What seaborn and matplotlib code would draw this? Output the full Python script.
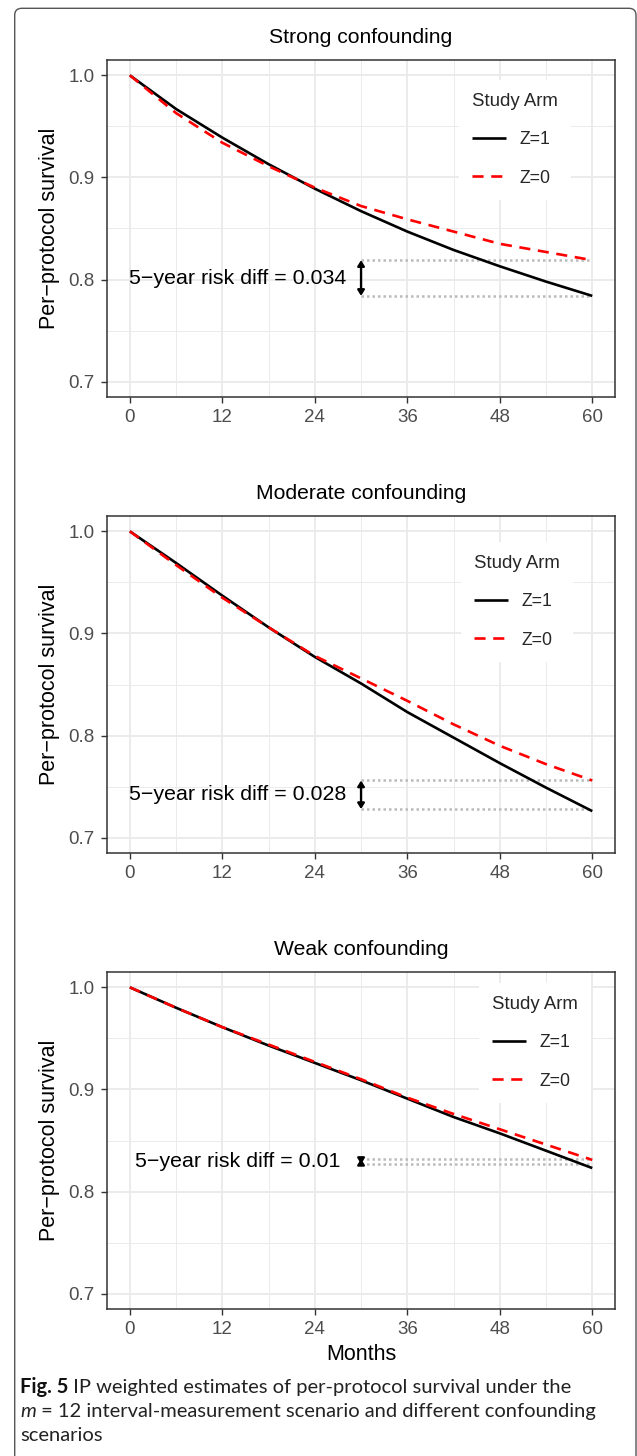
import matplotlib
matplotlib.use("Agg")
import matplotlib.pyplot as plt
import numpy as np
import pandas as pd
import seaborn as sns
from matplotlib.patches import FancyBboxPatch
from matplotlib.transforms import IdentityTransform
from matplotlib.ticker import FixedLocator

# ---------------- data ----------------
months = [0, 6, 12, 18, 24, 30, 36, 42, 48, 54, 60]
panel_titles = ["Strong confounding", "Moderate confounding", "Weak confounding"]
arm_labels = ["Z=1", "Z=0"]

strong_z1 = [1.000, 0.967, 0.939, 0.913, 0.889, 0.867, 0.847, 0.829, 0.813, 0.798, 0.784]
strong_z0 = [1.000, 0.963, 0.934, 0.911, 0.890, 0.872, 0.859, 0.847, 0.835, 0.827, 0.819]
moderate_z1 = [1.000, 0.969, 0.937, 0.906, 0.877, 0.851, 0.823, 0.798, 0.773, 0.749, 0.726]
moderate_z0 = [1.000, 0.967, 0.935, 0.906, 0.878, 0.856, 0.834, 0.811, 0.790, 0.772, 0.756]
weak_z1 = [1.000, 0.980, 0.961, 0.943, 0.926, 0.909, 0.891, 0.873, 0.857, 0.840, 0.823]
weak_z0 = [1.000, 0.980, 0.961, 0.944, 0.927, 0.910, 0.892, 0.876, 0.861, 0.846, 0.831]

risk_text = ["5\u2212year risk diff = 0.034", "5\u2212year risk diff = 0.028", "5\u2212year risk diff = 0.01"]
diff_upper = [0.819, 0.756, 0.832]
diff_lower = [0.784, 0.728, 0.827]
arrow_month = 30
end_month = 60
text_month = 14

x_ticks = [0, 12, 24, 36, 48, 60]
y_ticks = [0.7, 0.8, 0.9, 1.0]
y_tick_labels = ["0.7", "0.8", "0.9", "1.0"]

caption_bold = "Fig. 5"
caption_line1 = " IP weighted estimates of per-protocol survival under the"
caption_math = "m"
caption_line2 = " = 12 interval-measurement scenario and different confounding"
caption_line3 = "scenarios"

# ---------------- layout ----------------
W_PX, H_PX = 637, 1456
sns.set_style("white")
plt.rcParams["font.family"] = ["Liberation Sans", "DejaVu Sans"]

fig = plt.figure(figsize=(W_PX / 100, H_PX / 100), dpi=100)

ax_left_px, ax_right_px = 106.7, 615.4
ax_h_px = 337
ax_bottoms_px = [397, 853, 1309]           # bottom edge of each panel (from top)
legend_anchor_px = [(459, 80), (461, 542), (479, 983)]   # top-left of legend boxes

series = [(strong_z1, strong_z0), (moderate_z1, moderate_z0), (weak_z1, weak_z0)]
palette = {"Z=1": "black", "Z=0": "#FF0000"}
dashes = {"Z=1": "", "Z=0": (4.2, 2.9)}
border_col = "#333333"
grid_col = "#EBEBEB"

for i in range(3):
    b = ax_bottoms_px[i]
    ax = fig.add_axes([ax_left_px / W_PX, 1 - b / H_PX,
                       (ax_right_px - ax_left_px) / W_PX, ax_h_px / H_PX])
    z1, z0 = series[i]
    df = pd.DataFrame({
        "Months": months + months,
        "surv": z1 + z0,
        "arm": [arm_labels[0]] * len(months) + [arm_labels[1]] * len(months),
    })

    # dotted reference lines + arrow
    ax.hlines([diff_upper[i], diff_lower[i]], arrow_month, end_month,
              colors="#BBBBBB", linestyles=(0, (1.0, 1.2)), linewidth=1.8, zorder=2)

    sns.lineplot(data=df, x="Months", y="surv", hue="arm", style="arm",
                 hue_order=arm_labels, style_order=arm_labels,
                 palette=palette, dashes=dashes, linewidth=1.9,
                 estimator=None, errorbar=None, ax=ax, zorder=3)
    for ln in ax.get_lines():
        ln.set_solid_capstyle("butt")
        ln.set_dash_capstyle("butt")
        ln.set_solid_joinstyle("round")

    ax.annotate("", xy=(arrow_month, diff_lower[i]), xytext=(arrow_month, diff_upper[i]),
                arrowprops=dict(arrowstyle="<|-|>,head_length=0.32,head_width=0.2",
                                color="black", lw=1.7, shrinkA=0, shrinkB=0,
                                mutation_scale=10), zorder=4)
    ax.text(text_month, (diff_upper[i] + diff_lower[i]) / 2, risk_text[i],
            ha="center", va="center", fontsize=15.4, color="black", zorder=4)

    # axes styling
    ax.set_xlim(-3, 63)
    ax.set_ylim(0.685, 1.015)
    ax.set_xticks(x_ticks)
    ax.set_yticks(y_ticks)
    ax.set_yticklabels(y_tick_labels)
    ax.xaxis.set_minor_locator(FixedLocator([6, 18, 30, 42, 54]))
    ax.yaxis.set_minor_locator(FixedLocator([0.75, 0.85, 0.95]))
    ax.grid(which="major", color=grid_col, linewidth=1.4)
    ax.grid(which="minor", color=grid_col, linewidth=0.7)
    ax.set_axisbelow(True)
    ax.tick_params(which="major", direction="out", length=4.3, width=1.0,
                   color=border_col, labelcolor="#4D4D4D", labelsize=13.5, pad=4.3,
                   bottom=True, left=True)
    ax.tick_params(which="minor", length=0)
    for sp in ax.spines.values():
        sp.set_visible(True)
        sp.set_color(border_col)
        sp.set_linewidth(1.1)

    ax.set_title(panel_titles[i], fontsize=15.2, pad=12, color="black")
    ax.set_ylabel("Per\u2212protocol survival", fontsize=15.5, labelpad=6, color="black")
    if i == 2:
        ax.set_xlabel("Months", fontsize=15.5, labelpad=4, color="black")
    else:
        ax.set_xlabel("")

    handles, labels = ax.get_legend_handles_labels()
    if ax.get_legend() is not None:
        ax.get_legend().remove()
    lx, ly = legend_anchor_px[i]
    anchor = ((lx - ax_left_px) / (ax_right_px - ax_left_px), (b - ly) / ax_h_px)
    leg = ax.legend(handles, labels, title="Study Arm", loc="upper left",
                    bbox_to_anchor=anchor, borderaxespad=0, frameon=True,
                    fancybox=False, facecolor="white", edgecolor="none", framealpha=1,
                    fontsize=12.7, title_fontsize=13.4, handlelength=1.9,
                    handletextpad=0.8, labelspacing=1.2, borderpad=0.75,
                    alignment="left")
    leg.set_zorder(5)

# ---------------- outer frame ----------------
frame = FancyBboxPatch((14.7, -30), 636 - 14.7, (H_PX - 8.3) + 30,
                       boxstyle="round,pad=0,rounding_size=7",
                       transform=IdentityTransform(), fill=False,
                       edgecolor="#555555", linewidth=1.0)
fig.patches.append(frame)

# ---------------- caption ----------------
cap_font = ["Lato", "DejaVu Sans"]
cap_fs = 12.0
x0 = 20 / W_PX
base_y = [1393, 1417, 1441]
t_b = fig.text(x0, 1 - base_y[0] / H_PX, caption_bold, fontsize=cap_fs, fontweight="bold",
               family=cap_font, va="baseline", color="#111111")
t_1 = fig.text(x0, 1 - base_y[0] / H_PX, caption_line1, fontsize=cap_fs,
               family=cap_font, va="baseline", color="#222222")
t_m = fig.text(x0, 1 - base_y[1] / H_PX, caption_math, fontsize=cap_fs, style="italic",
               family=cap_font, va="baseline", color="#222222")
t_2 = fig.text(x0, 1 - base_y[1] / H_PX, caption_line2, fontsize=cap_fs,
               family=cap_font, va="baseline", color="#222222")
t_3 = fig.text(x0, 1 - base_y[2] / H_PX, caption_line3, fontsize=cap_fs,
               family=cap_font, va="baseline", color="#222222")

fig.canvas.draw()
r = fig.canvas.get_renderer()
# scale caption font so that line 2 spans the measured width (~575 px)
w2 = t_m.get_window_extent(r).width + t_2.get_window_extent(r).width
scale = 575 / w2
for t in (t_b, t_1, t_m, t_2, t_3):
    t.set_fontsize(cap_fs * scale)
fig.canvas.draw()
bb = t_b.get_window_extent(r)
t_1.set_x(bb.x1 / W_PX)
bb = t_m.get_window_extent(r)
t_2.set_x(bb.x1 / W_PX)

fig.savefig("out.png", dpi=100, facecolor="white")
